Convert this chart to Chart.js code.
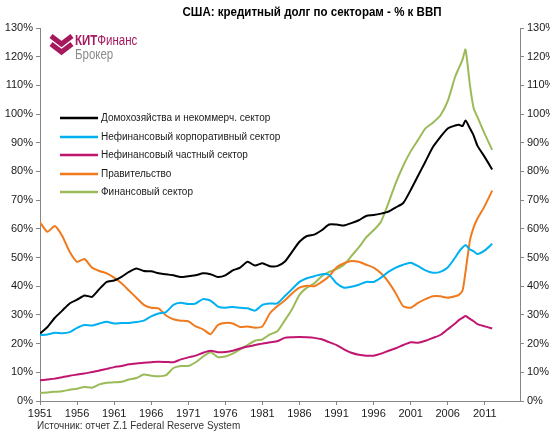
<!DOCTYPE html>
<html>
<head>
<meta charset="utf-8">
<script src="https://cdn.jsdelivr.net/npm/chart.js@4.4.1/dist/chart.umd.min.js"></script>
<style>
  html, body { margin: 0; padding: 0; background: #fff; }
  #wrap { width: 550px; height: 435px; position: relative; }
</style>
</head>
<body>
<div id="wrap"><canvas id="grafica" width="550" height="435"></canvas></div>
<script>
// годы (квартальные данные прорежены до годовых + несколько точек около 2008)
const years = [1951, 1952, 1953, 1954, 1955, 1956, 1957, 1958, 1959, 1960,
  1961, 1962, 1963, 1964, 1965, 1966, 1967, 1968, 1969, 1970,
  1971, 1972, 1973, 1974, 1975, 1976, 1977, 1978, 1979, 1980,
  1981, 1982, 1983, 1984, 1985, 1986, 1987, 1988, 1989, 1990,
  1991, 1992, 1993, 1994, 1995, 1996, 1997, 1998, 1999, 2000,
  2001, 2002, 2003, 2004, 2005, 2006, 2007, 2007.5, 2008, 2008.4,
  2009, 2009.5, 2010, 2011, 2012];

const household = [23.5, 25.8, 29, 31.5, 34, 35.3, 36.8, 36.3, 39, 41.5,
  42, 43.3, 45, 46.2, 45.3, 45.2, 44.5, 44.2, 43.8, 43.2,
  43.5, 43.8, 44.5, 44.2, 43.2, 43.8, 45.5, 46.5, 48.5, 47.2,
  48, 47, 47, 48.5, 52, 55.5, 57.5, 58, 59.5, 61.5,
  61.5, 61.2, 62, 63, 64.5, 64.8, 65.3, 66, 67.5, 69,
  73.5, 78.5, 83.5, 88.5, 92, 95, 96, 96.3, 95.8, 97.8,
  95, 92.5, 89, 85, 80.7];

const corporate = [23, 23.2, 23.8, 23.6, 24, 25.5, 26.5, 26.3, 27, 27.6,
  27, 27.2, 27.2, 27.5, 28, 29.5, 30.5, 31, 33.5, 34.2,
  33.8, 34, 35.5, 35, 32.9, 32.5, 32.8, 32.5, 32.3, 31.5,
  33.5, 34, 34, 36.5, 39, 41.5, 42.8, 43.5, 44.2, 44,
  41, 39.5, 39.8, 40.5, 41.5, 41.5, 43, 45, 46.5, 47.5,
  48.2, 47, 45.5, 44.7, 45, 46.5, 50, 52, 53.5, 54.4,
  52.8, 52.2, 51.2, 52.5, 54.8];

const privateSector = [7.2, 7.5, 7.8, 8.3, 8.8, 9.2, 9.6, 10.1, 10.6, 11.2,
  11.8, 12.2, 12.8, 13.1, 13.3, 13.5, 13.7, 13.6, 13.5, 14.5,
  15.2, 15.8, 16.8, 17.5, 17, 17.1, 17.5, 18.3, 19, 19.5,
  20, 20.5, 20.8, 22, 22.2, 22.3, 22.2, 22, 21.5, 20.5,
  19.5, 18, 16.8, 16.1, 15.8, 15.8, 16.5, 17.5, 18.4, 19.5,
  20.5, 20.3, 21, 22, 23, 25, 27, 28.2, 29, 29.6,
  28.6, 27.8, 26.8, 26, 25.3];

const government = [62.3, 59, 61, 57.5, 52, 48.5, 49.5, 46.5, 45.3, 44.5,
  43, 41, 38.5, 36, 33.5, 32.5, 32.3, 29.8, 28.5, 28,
  27.8, 26, 25, 23.3, 26.5, 27.2, 27, 25.8, 26, 25.5,
  26, 30.5, 33, 35, 37.5, 39.5, 40.2, 40, 41.5, 43.5,
  46.5, 48, 48.8, 48.5, 47.5, 46.5, 44.5, 41.5, 37.5, 33,
  32.5, 34.2, 35.5, 36.5, 36.5, 36, 36.5, 37, 38.5, 45,
  56, 60.5, 63.5, 68, 73.3];

const financial = [2.8, 3.0, 3.2, 3.4, 3.9, 4.3, 4.9, 4.6, 5.8, 6.4,
  6.5, 6.7, 7.5, 8.0, 9.2, 8.8, 8.6, 9.0, 11.5, 12.2,
  12.2, 13.5, 15.5, 17, 15.3, 15.5, 16.5, 18, 19.5, 21,
  21.5, 23.2, 24.3, 28, 32, 37, 39.5, 41, 43.5, 45,
  46, 47.5, 50.5, 53.5, 57, 59.5, 62.5, 69, 76, 82,
  87, 91, 95, 97, 99.5, 104.5, 113, 116, 119, 122.5,
  110, 102, 99, 93, 87.5];

const xTickYears = [1951, 1956, 1961, 1966, 1971, 1976, 1981, 1986, 1991, 1996, 2001, 2006, 2011];

const seriesNames = [
  'Домохозяйства и некоммерч. сектор',
  'Нефинансовый корпоративный сектор',
  'Нефинансовый частный сектор',
  'Правительство',
  'Финансовый сектор'
];

const colors = {
  household: '#000000',
  corporate: '#00b0f0',
  privat: '#c0166f',
  government: '#f07a1e',
  financial: '#9bbb59',
  axis: '#868686',
  logo: '#a5195d'
};

const seriesColors = [colors.household, colors.corporate, colors.privat, colors.government, colors.financial];
const seriesValues = [household, corporate, privateSector, government, financial];

function toPoints(values) {
  return values.map((v, i) => ({ x: years[i], y: v }));
}

// текст: заголовок, логотип, легенда, источник
const decor = {
  id: 'decor',
  afterDraw(chart) {
    const ctx = chart.ctx;
    ctx.save();

    // заголовок
    ctx.font = 'bold 12px "Liberation Sans", Arial, sans-serif';
    ctx.fillStyle = '#000';
    ctx.textBaseline = 'middle';
    ctx.textAlign = 'center';
    const title = 'США: кредитный долг по секторам - % к ВВП';
    const tw = ctx.measureText(title).width;
    const sx = Math.min(1, 259 / tw);
    ctx.save();
    ctx.translate(312, 13);
    ctx.scale(sx, 1);
    ctx.fillText(title, 0, 0);
    ctx.restore();

    // логотип
    ctx.strokeStyle = colors.logo;
    ctx.lineWidth = 5;
    ctx.lineJoin = 'miter';
    ctx.beginPath();
    ctx.moveTo(51, 36); ctx.lineTo(61.5, 44); ctx.lineTo(72, 36);
    ctx.stroke();
    ctx.beginPath();
    ctx.moveTo(51, 44); ctx.lineTo(61.5, 52); ctx.lineTo(72, 44);
    ctx.stroke();

    ctx.textAlign = 'left';
    ctx.textBaseline = 'alphabetic';
    ctx.save();
    ctx.translate(75, 45);
    ctx.scale(0.82, 1);
    ctx.fillStyle = colors.logo;
    ctx.font = 'bold 14px "Liberation Sans", Arial, sans-serif';
    ctx.fillText('КИТ', 0, 0);
    const kw = ctx.measureText('КИТ').width;
    ctx.font = '14px "Liberation Sans", Arial, sans-serif';
    ctx.fillText('Финанс', kw, 0);
    ctx.fillStyle = '#8c8c8c';
    ctx.fillText('Брокер', 0, 14);
    ctx.restore();

    // легенда
    const rows = [118, 137, 155, 174, 192];
    ctx.font = '10px "Liberation Sans", Arial, sans-serif';
    ctx.textBaseline = 'middle';
    seriesNames.forEach((name, i) => {
      ctx.strokeStyle = seriesColors[i];
      ctx.lineWidth = 2.5;
      ctx.beginPath();
      ctx.moveTo(60, rows[i]);
      ctx.lineTo(98, rows[i]);
      ctx.stroke();
      ctx.fillStyle = '#1a1a1a';
      ctx.fillText(name, 101, rows[i]);
    });

    // источник
    ctx.font = '10px "Liberation Sans", Arial, sans-serif';
    ctx.fillStyle = '#333';
    ctx.fillText('Источник: отчет Z.1 Federal Reserve System', 37, 426);

    ctx.restore();
  }
};

const tickFont = { family: '"Liberation Sans", Arial, sans-serif', size: 11 };

function yAxis(position, width) {
  return {
    position: position,
    min: 0,
    max: 130,
    afterFit: s => { s.width = width; },
    ticks: {
      stepSize: 10,
      font: tickFont,
      color: '#1a1a1a',
      padding: 3,
      callback: v => v + '%'
    },
    grid: { display: true, drawOnChartArea: false, drawTicks: true, tickLength: 4, color: colors.axis },
    border: { display: true, color: colors.axis }
  };
}

new Chart(document.getElementById('grafica'), {
  type: 'line',
  data: {
    datasets: seriesValues.map((vals, i) => ({
      label: seriesNames[i],
      data: toPoints(vals),
      borderColor: seriesColors[i],
      backgroundColor: seriesColors[i],
      borderWidth: 2,
      pointRadius: 0,
      tension: 0.2,
      fill: false
    }))
  },
  options: {
    responsive: false,
    animation: false,
    layout: { padding: { top: 28, left: 0, right: 0, bottom: 0 } },
    plugins: {
      legend: { display: false },
      title: { display: false },
      tooltip: { enabled: false }
    },
    scales: {
      x: {
        type: 'linear',
        min: 1951,
        max: 2015.75,
        afterFit: s => { s.height = 34; },
        afterBuildTicks: s => { s.ticks = xTickYears.map(v => ({ value: v })); },
        ticks: {
          font: tickFont,
          color: '#1a1a1a',
          autoSkip: false,
          maxRotation: 0,
          padding: 2,
          callback: v => String(v)
        },
        grid: { display: true, drawOnChartArea: false, drawTicks: true, tickLength: 4, color: colors.axis },
        border: { display: true, color: colors.axis }
      },
      y: yAxis('left', 40),
      y2: yAxis('right', 30)
    }
  },
  plugins: [decor]
});
</script>
</body>
</html>
